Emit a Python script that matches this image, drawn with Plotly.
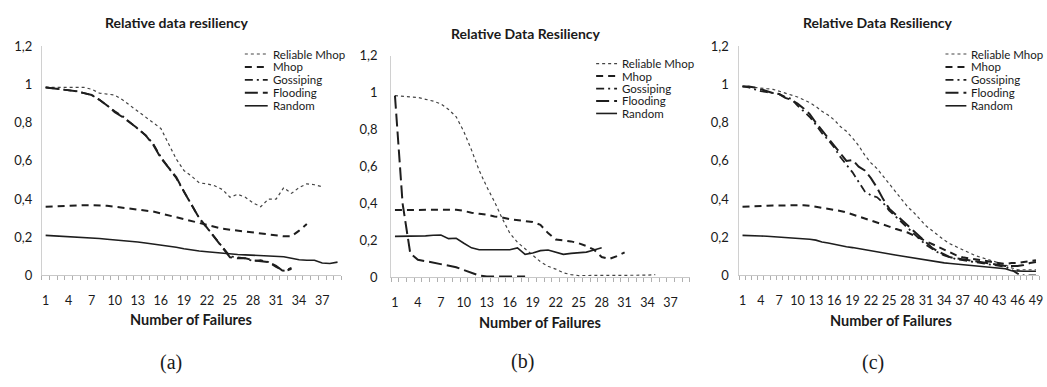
import plotly.graph_objects as go

W, H = 1047, 387

# ---------------- data ----------------
series_names = ["Reliable Mhop", "Mhop", "Gossiping", "Flooding", "Random"]

# panel (a)
cats_a = list(range(1, 40))
a_reliable = [0.985, 0.985, 0.985, 0.985, 0.985, 0.985, 0.975, 0.955, 0.95, 0.945, 0.92, 0.89, 0.86, 0.83,
              0.80, 0.77, 0.69, 0.61, 0.55, 0.52, 0.485, 0.48, 0.47, 0.45, 0.41, 0.425, 0.41, 0.38, 0.36,
              0.40, 0.40, 0.46, 0.43, 0.46, 0.48, 0.475, 0.465]
a_mhop = [0.36, 0.362, 0.365, 0.366, 0.367, 0.368, 0.368, 0.367, 0.365, 0.36, 0.355, 0.35, 0.345, 0.34,
          0.335, 0.325, 0.315, 0.305, 0.295, 0.285, 0.275, 0.265, 0.255, 0.245, 0.24, 0.235, 0.23, 0.225,
          0.22, 0.215, 0.21, 0.205, 0.205, 0.235, 0.27]
a_gossip = [0.985, 0.98, 0.975, 0.97, 0.965, 0.955, 0.945, 0.92, 0.89, 0.86, 0.835, 0.80, 0.77, 0.735,
            0.69, 0.62, 0.565, 0.51, 0.44, 0.37, 0.30, 0.25, 0.20, 0.15, 0.10, 0.095, 0.09, 0.075, 0.08,
            0.07, 0.045, 0.025, 0.04]
a_flood = [0.985, 0.98, 0.975, 0.97, 0.965, 0.955, 0.945, 0.92, 0.89, 0.855, 0.83, 0.80, 0.77, 0.735,
           0.685, 0.615, 0.565, 0.515, 0.44, 0.37, 0.30, 0.25, 0.20, 0.15, 0.095, 0.09, 0.09, 0.08, 0.075,
           0.07, 0.05, 0.02, 0.035]
a_random = [0.21, 0.208, 0.207, 0.205, 0.203, 0.2, 0.197, 0.194, 0.19, 0.187, 0.183, 0.179, 0.175, 0.17,
            0.165, 0.16, 0.155, 0.148, 0.14, 0.133, 0.128, 0.124, 0.12, 0.116, 0.113, 0.11, 0.108, 0.106,
            0.104, 0.103, 0.102, 0.098, 0.09, 0.082, 0.08, 0.08, 0.065, 0.063, 0.07]

# panel (b)
cats_b = list(range(1, 40))
b_reliable = [0.985, 0.983, 0.98, 0.975, 0.965, 0.955, 0.94, 0.91, 0.87, 0.79, 0.69, 0.58, 0.49, 0.41,
              0.32, 0.24, 0.19, 0.155, 0.12, 0.085, 0.06, 0.045, 0.025, 0.015, 0.01, 0.01, 0.01, 0.01,
              0.01, 0.01, 0.01, 0.01, 0.01, 0.012, 0.015]
b_mhop = [0.365, 0.365, 0.365, 0.365, 0.365, 0.365, 0.367, 0.367, 0.367, 0.36, 0.35, 0.345, 0.34, 0.33,
          0.325, 0.315, 0.31, 0.305, 0.30, 0.285, 0.24, 0.205, 0.20, 0.195, 0.185, 0.17, 0.15, 0.11,
          0.10, 0.115, 0.135]
b_gossip = []
b_flood = [0.985, 0.40, 0.13, 0.095, 0.088, 0.08, 0.07, 0.063, 0.055, 0.04, 0.025, 0.01, 0.005, 0.005,
           0.005, 0.005, 0.005, 0.005]
b_random = [0.222, 0.222, 0.222, 0.222, 0.225, 0.228, 0.23, 0.21, 0.212, 0.185, 0.16, 0.15, 0.15, 0.153,
            0.152, 0.15, 0.16, 0.125, 0.132, 0.145, 0.148, 0.135, 0.125, 0.13, 0.133, 0.137, 0.148, 0.16]

# panel (c)
cats_c = list(range(1, 50))
c_reliable = [0.99, 0.99, 0.985, 0.98, 0.978, 0.975, 0.965, 0.955, 0.945, 0.935, 0.92, 0.905, 0.885,
              0.86, 0.84, 0.815, 0.78, 0.755, 0.72, 0.68, 0.63, 0.59, 0.56, 0.52, 0.485, 0.44, 0.40, 0.36,
              0.33, 0.295, 0.26, 0.235, 0.21, 0.185, 0.165, 0.15, 0.135, 0.12, 0.105, 0.095, 0.085,
              0.075, 0.065, 0.055, 0.04, 0.03, 0.03, 0.03, 0.03]
c_mhop = [0.36, 0.362, 0.363, 0.364, 0.365, 0.366, 0.367, 0.368, 0.369, 0.369, 0.368, 0.365, 0.36, 0.355,
          0.35, 0.345, 0.338, 0.33, 0.32, 0.31, 0.30, 0.29, 0.28, 0.268, 0.256, 0.245, 0.235, 0.225,
          0.21, 0.195, 0.18, 0.165, 0.15, 0.135, 0.12, 0.105, 0.095, 0.09, 0.085, 0.08, 0.075, 0.07,
          0.065, 0.06, 0.065, 0.065, 0.07, 0.075, 0.08]
c_gossip = [0.99, 0.985, 0.975, 0.965, 0.96, 0.955, 0.95, 0.935, 0.925, 0.89, 0.86, 0.83, 0.79, 0.745,
            0.71, 0.67, 0.62, 0.58, 0.54, 0.49, 0.44, 0.42, 0.41, 0.38, 0.34, 0.31, 0.28, 0.25, 0.22,
            0.19, 0.16, 0.14, 0.12, 0.105, 0.095, 0.085, 0.08, 0.075, 0.07, 0.065, 0.06, 0.055, 0.05,
            0.045, 0.03, 0.01, 0.0, 0.0, 0.0]
c_flood = [0.99, 0.99, 0.985, 0.975, 0.965, 0.955, 0.95, 0.93, 0.92, 0.90, 0.875, 0.845, 0.80, 0.76,
           0.72, 0.68, 0.64, 0.60, 0.605, 0.57, 0.55, 0.51, 0.46, 0.40, 0.35, 0.32, 0.29, 0.26, 0.23,
           0.20, 0.17, 0.145, 0.125, 0.11, 0.095, 0.09, 0.085, 0.08, 0.075, 0.07, 0.065, 0.06, 0.055,
           0.05, 0.05, 0.05, 0.055, 0.065, 0.07]
c_random = [0.21, 0.21, 0.21, 0.207, 0.205, 0.203, 0.2, 0.2, 0.197, 0.194, 0.191, 0.19, 0.185, 0.175,
            0.17, 0.163, 0.155, 0.15, 0.146, 0.14, 0.135, 0.128, 0.124, 0.118, 0.113, 0.107, 0.102,
            0.097, 0.09, 0.083, 0.078, 0.074, 0.07, 0.066, 0.063, 0.06, 0.058, 0.055, 0.052, 0.05,
            0.047, 0.044, 0.04, 0.035, 0.025, 0.022, 0.022, 0.022, 0.022]

y_tickvals = [0, 0.2, 0.4, 0.6, 0.8, 1.0, 1.2]
y_ticktext = ["0", "0,2", "0,4", "0,6", "0,8", "1", "1,2"]

titles = ["Relative data resiliency", "Relative Data Resiliency", "Relative Data Resiliency"]
xtitle = "Number of Failures"
captions = ["(a)", "(b)", "(c)"]

# ---------------- styles ----------------
styles = {
    "Reliable Mhop": dict(color="#444444", width=1.2, dash="dot"),
    "Mhop": dict(color="#1e1e1e", width=2.0, dash="7px,5px"),
    "Gossiping": dict(color="#1e1e1e", width=1.8, dash="8px,4px,2px,4px"),
    "Flooding": dict(color="#1e1e1e", width=2.0, dash="13px,5px"),
    "Random": dict(color="#1e1e1e", width=1.6, dash="solid"),
}

FONT = "Lato"
TXT = "#1a1a1a"


def px(x):
    return x / W


def py(y):
    return 1 - y / H


panels = [
    dict(cats=cats_a, data=[a_reliable, a_mhop, a_gossip, a_flood, a_random],
         x0=41, x1=342, y0=279, y1=40, ystand=6,
         title=(177, 15), xt=(191, 325), cap=(171, 370),
         leg=dict(sx0=245, sx1=268, tx=271, rows=[48, 61.5, 75, 88.5, 102])),
    dict(cats=cats_b, data=[b_reliable, b_mhop, b_gossip, b_flood, b_random],
         x0=392, x1=692, y0=281, y1=50, ystand=10,
         title=(528, 27), xt=(542, 328), cap=(524, 369),
         leg=dict(sx0=598, sx1=619, tx=622, rows=[58, 71, 84, 97, 110])),
    dict(cats=cats_c, data=[c_reliable, c_mhop, c_gossip, c_flood, c_random],
         x0=742, x1=1043, y0=279, y1=40, ystand=7,
         title=(881, 15), xt=(894, 326), cap=(876, 370),
         leg=dict(sx0=949, sx1=970, tx=973, rows=[48, 61.5, 75, 88.5, 102])),
]

fig = go.Figure()
layout = dict(width=W, height=H, margin=dict(l=0, r=0, t=0, b=0),
              paper_bgcolor="white", plot_bgcolor="white", showlegend=False,
              font=dict(family=FONT, color=TXT))
annotations = []
shapes = []

for i, p in enumerate(panels):
    sfx = "" if i == 0 else str(i + 1)
    xa, ya = "x" + sfx, "y" + sfx
    n = len(p["cats"])
    for name, vals in zip(series_names, p["data"]):
        fig.add_trace(go.Scatter(x=p["cats"][:len(vals)], y=vals, mode="lines", name=name,
                                 line=styles[name], xaxis=xa, yaxis=ya, hoverinfo="skip"))
    tickv = [c for c in p["cats"] if (c - 1) % 3 == 0]
    layout["xaxis" + sfx] = dict(
        domain=[px(p["x0"]), px(p["x1"])], anchor=ya, range=[0.5, n + 0.5],
        showline=True, linecolor="#c8c8c8", linewidth=1, showgrid=False, zeroline=False,
        tickmode="array", tickvals=tickv, ticktext=[str(c) for c in tickv],
        ticks="", ticklabelstandoff=14, ticklabeloverflow="allow", tickangle=0,
        tickfont=dict(family=FONT, size=12.5, color=TXT),
        minor=dict(tickmode="linear", tick0=0.5, dtick=1, ticks="outside", ticklen=4,
                   tickcolor="#b0b0b0", tickwidth=1, showgrid=False),
        fixedrange=True)
    layout["yaxis" + sfx] = dict(
        domain=[py(p["y0"]), py(p["y1"])], anchor=xa, range=[0, 1.2],
        showline=True, linecolor="#d0d0d0", linewidth=1, showgrid=False, zeroline=False,
        tickmode="array", tickvals=y_tickvals, ticktext=y_ticktext, ticks="",
        ticklabelstandoff=p["ystand"],
        tickfont=dict(family=FONT, size=13, color=TXT), fixedrange=True)

    # titles and captions
    annotations.append(dict(text="<b>" + titles[i] + "</b>", x=px(p["title"][0]), y=py(p["title"][1]),
                            xref="paper", yref="paper", showarrow=False, xanchor="center",
                            yanchor="middle", font=dict(family=FONT, size=14, color=TXT)))
    annotations.append(dict(text="<b>" + xtitle + "</b>", x=px(p["xt"][0]), y=py(p["xt"][1]),
                            xref="paper", yref="paper", showarrow=False, xanchor="center",
                            yanchor="middle", font=dict(family=FONT, size=14.5, color=TXT)))
    annotations.append(dict(text=captions[i], x=px(p["cap"][0]), y=py(p["cap"][1]),
                            xref="paper", yref="paper", showarrow=False, xanchor="center",
                            yanchor="middle", font=dict(family="Liberation Serif", size=20,
                                                        color=TXT)))
    # legend
    lg = p["leg"]
    for name, ry in zip(series_names, lg["rows"]):
        st = styles[name]
        shapes.append(dict(type="line", xref="paper", yref="paper",
                           x0=px(lg["sx0"]), x1=px(lg["sx1"]), y0=py(ry), y1=py(ry),
                           line=dict(color=st["color"], width=st["width"], dash=st["dash"])))
        annotations.append(dict(text=name, x=px(lg["tx"]), y=py(ry), xref="paper", yref="paper",
                                showarrow=False, xanchor="left", yanchor="middle",
                                font=dict(family=FONT, size=11.5, color=TXT)))

layout["annotations"] = annotations
layout["shapes"] = shapes
fig.update_layout(**layout)
fig.write_html("out.html")
